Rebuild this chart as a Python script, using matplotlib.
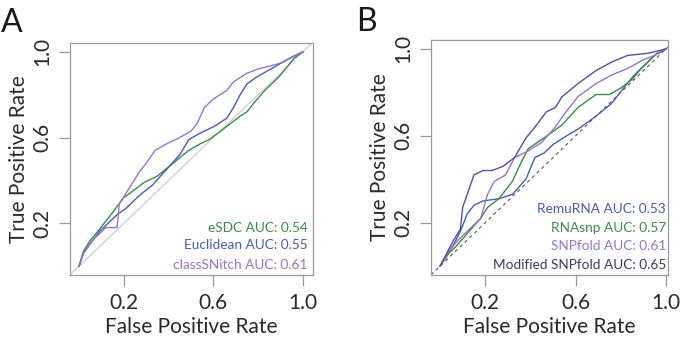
import matplotlib
matplotlib.use('Agg')
import matplotlib.pyplot as plt

# panel A curves
esdc_fpr = [0, 0.02, 0.05, 0.09, 0.15, 0.2, 0.24, 0.29, 0.35, 0.42, 0.49, 0.54, 0.58, 0.62, 0.67, 0.72, 0.75, 0.78, 0.83, 0.89, 0.93, 0.96, 1.0]
esdc_tpr = [0, 0.07, 0.12, 0.17, 0.25, 0.32, 0.35, 0.39, 0.42, 0.48, 0.54, 0.57, 0.59, 0.62, 0.66, 0.70, 0.72, 0.76, 0.82, 0.88, 0.93, 0.97, 1.0]
eucl_fpr = [0, 0.02, 0.04, 0.09, 0.14, 0.17, 0.21, 0.27, 0.33, 0.39, 0.45, 0.49, 0.54, 0.60, 0.66, 0.69, 0.72, 0.75, 0.79, 0.84, 0.89, 0.94, 1.0]
eucl_tpr = [0, 0.06, 0.09, 0.16, 0.21, 0.24, 0.27, 0.33, 0.38, 0.45, 0.52, 0.59, 0.62, 0.65, 0.69, 0.74, 0.80, 0.85, 0.88, 0.91, 0.94, 0.97, 1.0]
csn_fpr = [0, 0.02, 0.06, 0.09, 0.12, 0.17, 0.18, 0.21, 0.24, 0.27, 0.30, 0.34, 0.39, 0.45, 0.50, 0.53, 0.56, 0.60, 0.66, 0.69, 0.75, 0.80, 0.84, 0.91, 0.96, 1.0]
csn_tpr = [0, 0.06, 0.12, 0.15, 0.18, 0.18, 0.29, 0.34, 0.39, 0.44, 0.48, 0.54, 0.57, 0.60, 0.63, 0.67, 0.74, 0.78, 0.82, 0.86, 0.90, 0.92, 0.93, 0.95, 0.98, 1.0]

# panel B curves
remu_fpr = [0, 0.03, 0.06, 0.09, 0.12, 0.15, 0.19, 0.26, 0.32, 0.38, 0.42, 0.46, 0.50, 0.56, 0.61, 0.69, 0.76, 0.82, 0.86, 0.91, 0.96, 1.0]
remu_tpr = [0, 0.05, 0.10, 0.16, 0.24, 0.28, 0.30, 0.31, 0.33, 0.40, 0.50, 0.52, 0.56, 0.60, 0.63, 0.69, 0.75, 0.83, 0.88, 0.93, 0.98, 1.0]
rnasnp_fpr = [0, 0.04, 0.07, 0.12, 0.18, 0.21, 0.26, 0.32, 0.36, 0.39, 0.46, 0.50, 0.54, 0.61, 0.69, 0.75, 0.80, 0.85, 0.89, 0.95, 1.0]
rnasnp_tpr = [0, 0.06, 0.09, 0.15, 0.22, 0.27, 0.31, 0.39, 0.48, 0.54, 0.59, 0.62, 0.65, 0.73, 0.79, 0.79, 0.82, 0.86, 0.91, 0.97, 1.0]
snpfold_fpr = [0, 0.04, 0.08, 0.13, 0.18, 0.21, 0.24, 0.29, 0.33, 0.39, 0.45, 0.51, 0.55, 0.61, 0.69, 0.76, 0.83, 0.90, 0.95, 1.0]
snpfold_tpr = [0, 0.07, 0.12, 0.17, 0.22, 0.33, 0.39, 0.42, 0.50, 0.53, 0.57, 0.64, 0.70, 0.78, 0.84, 0.88, 0.91, 0.95, 0.97, 1.0]
mod_fpr = [0, 0.03, 0.06, 0.09, 0.10, 0.12, 0.15, 0.19, 0.23, 0.28, 0.33, 0.38, 0.42, 0.47, 0.51, 0.54, 0.61, 0.69, 0.76, 0.83, 0.92, 1.0]
mod_tpr = [0, 0.06, 0.12, 0.17, 0.27, 0.33, 0.42, 0.44, 0.44, 0.46, 0.50, 0.59, 0.64, 0.71, 0.73, 0.78, 0.84, 0.90, 0.94, 0.97, 0.98, 1.0]

labels_a = ['eSDC AUC: 0.54', 'Euclidean AUC: 0.55', 'classSNitch AUC: 0.61']
labels_b = ['RemuRNA AUC: 0.53', 'RNAsnp AUC: 0.57', 'SNPfold AUC: 0.61', 'Modified SNPfold AUC: 0.65']

GREEN = '#3b8a4c'
BLUE = '#4a5cae'
PURPLE = '#9674c8'
DARK = '#5a4f98'
DARK_TXT = '#3d3b5a'

plt.rcParams['font.family'] = ['Lato', 'DejaVu Sans']

fig = plt.figure(figsize=(6.87, 3.47), dpi=100)
ax_a = fig.add_axes([0.1019, 0.2075, 0.3537, 0.6686])
ax_b = fig.add_axes([0.6274, 0.2075, 0.3450, 0.6772])


def style(ax, xmax):
    ax.set_xlim(-0.04, xmax)
    ax.set_ylim(-0.041, 1.041)
    ax.set_xticks([0.2, 0.6, 1.0])
    ax.set_yticks([0.2, 0.6, 1.0])
    ax.set_xticklabels(['0.2', '0.6', '1.0'])
    ax.set_yticklabels(['0.2', '0.6', '1.0'], rotation=90, va='center')
    for s in ax.spines.values():
        s.set_color('#9a9a9a')
        s.set_linewidth(0.9)
    ax.tick_params(length=8, width=0.9, color='#9a9a9a', labelsize=15,
                   labelcolor='#2a2a2a', pad=5)
    ax.set_xlabel('False Positive Rate', fontsize=15, color='#2a2a2a', labelpad=3)
    ax.set_ylabel('True Positive Rate', fontsize=15, color='#2a2a2a', labelpad=2)


style(ax_a, 1.045)
ax_a.axline((0, 0), (1, 1), color='#c8c8c8', lw=0.8, zorder=1)
ax_a.plot(esdc_fpr, esdc_tpr, color=GREEN, lw=1.0)
ax_a.plot(eucl_fpr, eucl_tpr, color=BLUE, lw=1.0)
ax_a.plot(csn_fpr, csn_tpr, color=PURPLE, lw=1.0)
for lab, col, yy in zip(labels_a, [GREEN, BLUE, PURPLE], [0.18, 0.098, 0.006]):
    ax_a.text(1.02, yy, lab, color=col, fontsize=9.8, ha='right', va='center')

style(ax_b, 1.009)
ax_b.axline((0, 0), (1, 1), color='#555555', lw=0.8, ls=(0, (3, 3)), zorder=1)
ax_b.plot(remu_fpr, remu_tpr, color=BLUE, lw=1.0)
ax_b.plot(rnasnp_fpr, rnasnp_tpr, color=GREEN, lw=1.0)
ax_b.plot(snpfold_fpr, snpfold_tpr, color=PURPLE, lw=1.0)
ax_b.plot(mod_fpr, mod_tpr, color=DARK, lw=1.0)
for lab, col, yy in zip(labels_b, [BLUE, GREEN, PURPLE, DARK_TXT], [0.263, 0.175, 0.092, 0.006]):
    ax_b.text(1.0, yy, lab, color=col, fontsize=9.8, ha='right', va='center')

fig.text(0.001, 0.934, 'A', fontsize=23, color='#1a1a1a', va='center', ha='left')
fig.text(0.518, 0.938, 'B', fontsize=23, color='#1a1a1a', va='center', ha='left')

fig.savefig('out.png', dpi=100)
